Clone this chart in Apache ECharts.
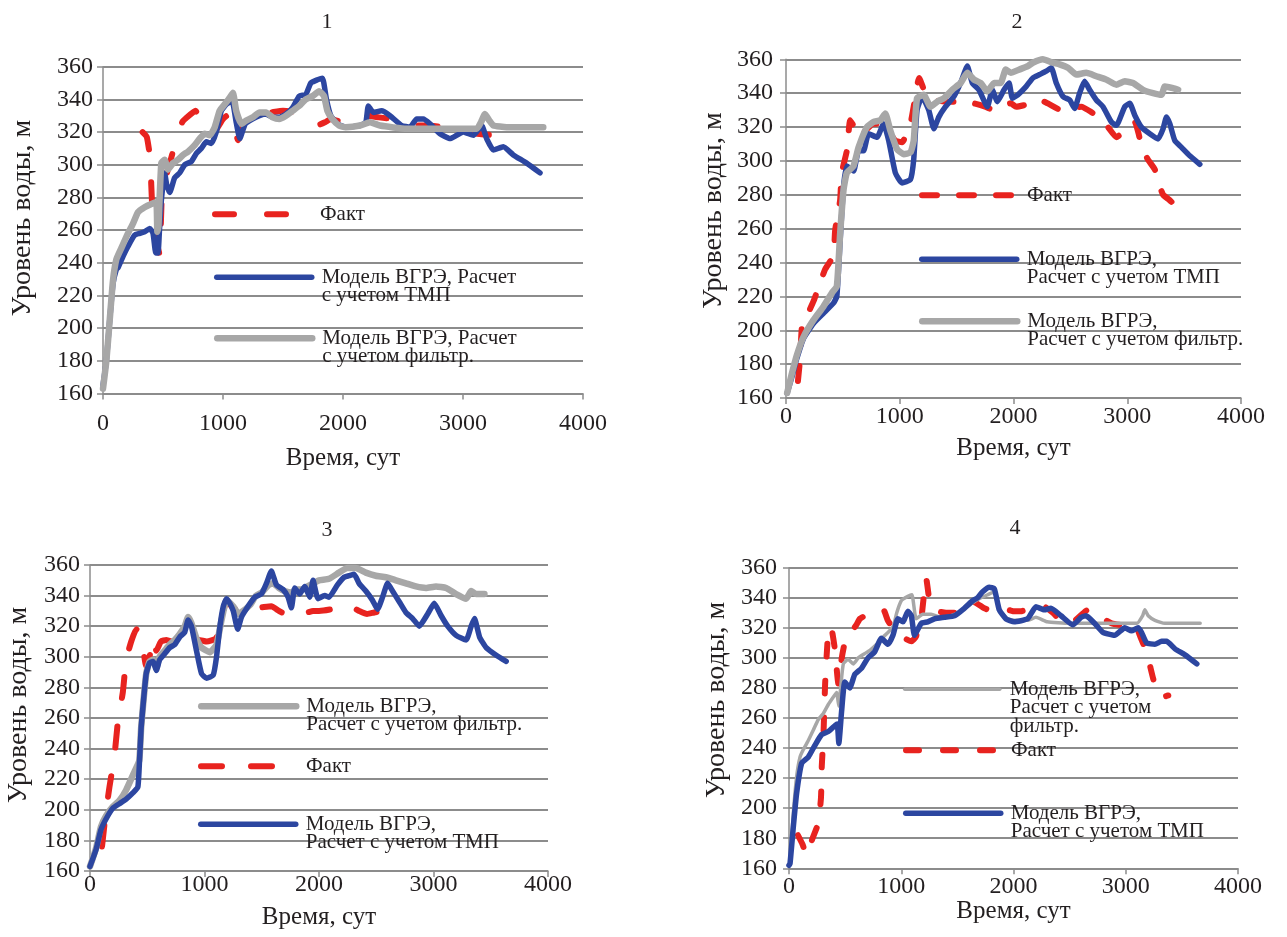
<!DOCTYPE html>
<html>
<head>
<meta charset="utf-8">
<script src="https://cdn.jsdelivr.net/npm/echarts@6/dist/echarts.min.js"></script>
<style>
  html, body { margin: 0; padding: 0; background: #ffffff; }
  #chart { width: 1287px; height: 937px; }
</style>
</head>
<body>
<div id="chart"></div>
<script>
// Panel captions and axis titles
const panelTitles = ['1', '2', '3', '4'];
const xAxisTitle = 'Время, сут';
const yAxisTitle = 'Уровень воды, м';
const seriesNames = ['Факт', 'Модель ВГРЭ, Расчет с учетом ТМП', 'Модель ВГРЭ, Расчет с учетом фильтр.'];

// Axis ranges
const timeTicks = [0, 1000, 2000, 3000, 4000];
const levelTicks = [160, 180, 200, 220, 240, 260, 280, 300, 320, 340, 360];

// ---- Panel 1: [time, level] ----
const fact1 = [[330,320],[365,317],[395,303],[402,288],[412,272],[430,260],[455,250],[472,245],[490,280],[515,290],[560,302],[610,315],[660,326],[700,329],[770,333],[820,326],[870,319],[930,320],[1000,328],[1070,332],[1100,322],[1125,315],[1160,322],[1200,328],[1300,331],[1400,332],[1500,333],[1600,332],[1700,327],[1780,324],[1850,326],[1900,328],[1950,327],[2050,325],[2150,326],[2210,330],[2300,329],[2400,328],[2480,326],[2580,324],[2700,324],[2830,323],[2950,321],[3050,320],[3120,319],[3250,318],[3380,316]];
const tmp1 = [[0,165],[28,180],[56,205],[83,227],[111,236],[125,237],[167,244],[208,250],[264,257],[306,258],[347,259],[389,261],[417,258],[440,246],[458,246],[472,262],[486,278],[514,295],[530,288],[556,283],[597,292],[639,295],[681,300],[736,302],[778,307],[819,310],[861,314],[903,313],[944,320],[986,333],[1028,337],[1075,339],[1110,326],[1140,316],[1185,325],[1248,328],[1304,330],[1359,331],[1414,329],[1469,329],[1525,331],[1580,335],[1635,342],[1690,343],[1732,350],[1787,352],[1829,353],[1862,340],[1898,330],[1953,325],[2022,323],[2142,324],[2190,326],[2211,336],[2253,332],[2322,333],[2392,330],[2489,324],[2558,323],[2614,328],[2670,328],[2725,325],[2808,319],[2892,316],[2947,318],[3003,320],[3086,318],[3156,324],[3197,316],[3253,309],[3336,311],[3419,306],[3530,301],[3642,295]];
const filt1 = [[0,163],[28,180],[56,205],[83,229],[111,242],[153,249],[208,258],[250,264],[292,271],[347,274],[403,276],[444,277],[453,259],[462,262],[486,301],[514,303],[542,297],[583,301],[625,303],[667,306],[708,308],[764,312],[806,316],[847,319],[889,318],[931,323],[972,333],[1014,337],[1056,341],[1083,344],[1110,333],[1153,325],[1193,327],[1248,329],[1304,332],[1359,332],[1414,329],[1469,328],[1525,330],[1580,333],[1635,336],[1690,340],[1746,342],[1801,345],[1842,342],[1870,333],[1911,328],[1967,324],[2022,323],[2142,324],[2225,326],[2308,324],[2531,322],[2800,322],[3114,322],[3150,326],[3183,331],[3220,327],[3253,324],[3364,323],[3669,323]];

// ---- Panel 2 ----
const fact2 = [[105,170],[125,184],[140,202],[180,208],[241,217],[290,226],[344,236],[417,244],[432,259],[476,277],[490,293],[535,306],[564,324],[600,320],[653,314],[700,318],[770,322],[830,322],[900,318],[960,312],[1020,311],[1094,322],[1130,335],[1170,349],[1226,340],[1300,336],[1400,335],[1500,335],[1650,334],[1750,332],[1829,330],[1900,332],[1976,334],[2023,332],[2100,333],[2229,336],[2300,334],[2420,330],[2500,331],[2596,332],[2680,329],[2758,325],[2830,320],[2904,314],[2980,318],[3066,323],[3100,316],[3124,309],[3180,301],[3242,295],[3280,286],[3315,280],[3370,277],[3418,274]];
const tmp2 = [[10,163],[50,172],[94,183],[153,195],[241,204],[329,210],[417,216],[447,220],[476,253],[506,285],[535,297],[594,294],[638,306],[682,306],[726,316],[800,314],[858,322],[903,312],[961,293],[1020,287],[1094,289],[1123,301],[1152,330],[1197,338],[1255,330],[1300,319],[1344,326],[1402,332],[1476,338],[1535,346],[1594,356],[1638,346],[1696,342],[1770,332],[1814,342],[1858,335],[1917,342],[1961,346],[1990,337],[2038,339],[2112,344],[2170,349],[2229,351],[2288,353],[2332,355],[2376,346],[2435,338],[2493,336],[2537,331],[2581,340],[2625,347],[2669,342],[2728,336],[2787,332],[2860,323],[2904,321],[2978,332],[3022,334],[3066,327],[3124,320],[3198,316],[3271,313],[3315,319],[3345,326],[3374,322],[3418,312],[3477,308],[3550,303],[3638,298]];
const filt2 = [[10,163],[50,174],[94,185],[153,196],[241,206],[329,214],[403,222],[447,226],[476,257],[506,283],[535,293],[594,297],[638,308],[711,320],[770,323],[829,324],[873,328],[917,318],[976,307],[1035,304],[1094,305],[1123,312],[1152,337],[1211,339],[1270,332],[1329,335],[1388,337],[1461,342],[1535,346],[1594,352],[1652,348],[1711,346],[1770,341],[1829,346],[1887,346],[1932,354],[1976,352],[2053,354],[2126,356],[2170,358],[2258,360],[2346,358],[2405,357],[2479,355],[2552,351],[2640,352],[2728,350],[2816,348],[2904,345],[2978,347],[3051,346],[3139,342],[3227,340],[3301,339],[3330,344],[3403,343],[3447,342]];

// ---- Panel 3 ----
const fact3 = [[105,176],[135,196],[170,215],[213,235],[243,257],[287,277],[316,298],[360,310],[404,318],[447,313],[491,294],[520,300],[550,312],[580,304],[620,310],[667,311],[740,309],[813,307],[880,310],[950,311],[1020,310],[1100,312],[1140,320],[1192,337],[1250,332],[1308,330],[1366,332],[1450,332],[1584,333],[1650,330],[1700,328],[1760,327],[1802,326],[1850,328],[1900,329],[1948,330],[2000,330],[2100,331],[2170,333],[2248,334],[2300,332],[2350,330],[2420,328],[2482,329],[2560,330],[2620,331],[2700,332]];
const tmp3 = [[0,163],[53,174],[96,187],[140,194],[199,201],[257,204],[316,207],[374,211],[418,215],[433,233],[447,254],[468,272],[491,289],[520,296],[550,297],[579,291],[608,298],[652,302],[696,306],[740,308],[784,313],[827,316],[857,324],[886,320],[930,304],[974,289],[1018,286],[1076,288],[1105,300],[1135,320],[1164,333],[1193,338],[1221,335],[1251,330],[1290,318],[1323,326],[1381,333],[1439,339],[1497,341],[1541,348],[1584,356],[1628,347],[1686,344],[1730,339],[1759,332],[1788,345],[1831,341],[1875,346],[1919,339],[1948,350],[1991,338],[2050,340],[2088,339],[2161,347],[2219,352],[2263,353],[2307,354],[2350,348],[2409,343],[2467,337],[2511,331],[2555,339],[2599,348],[2642,343],[2701,336],[2759,329],[2818,325],[2876,320],[2949,328],[3007,335],[3066,327],[3124,320],[3197,314],[3285,311],[3329,320],[3358,325],[3402,313],[3460,306],[3548,301],[3635,297]];
const filt3 = [[0,163],[53,175],[96,189],[140,196],[199,202],[257,206],[316,213],[389,225],[430,232],[447,254],[468,272],[491,289],[520,297],[550,298],[579,293],[608,300],[652,304],[696,308],[740,311],[784,315],[827,320],[857,326],[886,322],[930,312],[974,306],[1047,303],[1105,308],[1149,324],[1193,337],[1251,333],[1300,328],[1339,330],[1400,334],[1450,340],[1500,342],[1560,347],[1600,348],[1650,345],[1700,343],[1760,342],[1800,344],[1850,344],[1900,346],[1950,348],[2000,350],[2088,351],[2175,355],[2248,358],[2321,358],[2409,355],[2496,353],[2584,352],[2672,350],[2759,348],[2847,346],[2934,345],[3022,346],[3110,345],[3197,341],[3285,338],[3329,343],[3372,341],[3445,341]];

// ---- Panel 4 ----
const fact4 = [[80,182],[120,176],[157,169],[210,180],[261,190],[285,207],[292,228],[306,247],[314,265],[322,283],[335,301],[355,320],[375,320],[410,305],[439,283],[470,300],[512,315],[560,318],[600,322],[632,326],[700,329],[760,331],[840,332],[880,325],[940,318],[975,316],[1030,313],[1090,311],[1130,314],[1178,326],[1222,353],[1252,338],[1290,333],[1325,331],[1400,330],[1480,330],[1540,332],[1651,337],[1740,333],[1829,331],[1900,332],[1947,332],[2006,331],[2066,331],[2150,333],[2275,334],[2350,330],[2454,323],[2550,325],[2663,332],[2760,328],[2872,323],[2950,322],[3081,322],[3130,314],[3185,304],[3245,286],[3290,276],[3330,274],[3379,275]];
const tmp4 = [[0,162],[9,163],[39,188],[68,210],[113,230],[172,234],[232,242],[291,249],[350,251],[410,255],[430,256],[444,243],[468,264],[497,284],[541,280],[586,289],[645,293],[704,300],[763,304],[823,313],[882,309],[926,315],[970,326],[1015,324],[1059,331],[1090,328],[1118,315],[1178,323],[1237,324],[1296,326],[1385,327],[1474,328],[1562,333],[1636,338],[1680,340],[1725,344],[1784,347],[1829,346],[1873,332],[1932,326],[2006,324],[2125,326],[2200,334],[2275,332],[2334,333],[2424,328],[2528,322],[2603,327],[2648,328],[2722,323],[2797,317],[2901,315],[2991,320],[3051,318],[3110,320],[3140,317],[3185,310],[3260,309],[3319,311],[3364,311],[3439,306],[3528,302],[3633,296]];
const filt4 = [[0,162],[9,165],[39,197],[68,221],[98,234],[128,239],[172,245],[217,252],[261,259],[306,263],[350,269],[395,274],[424,277],[444,268],[460,280],[484,296],[528,299],[573,296],[617,300],[677,303],[721,305],[781,309],[840,314],[884,317],[929,321],[960,330],[1000,338],[1059,341],[1095,342],[1133,326],[1192,329],[1266,329],[1355,327],[1444,328],[1533,331],[1621,336],[1710,340],[1769,342],[1829,344],[1873,332],[1947,326],[2006,325],[2125,325],[2200,327],[2300,324],[2500,323],[2800,323],[3100,323],[3150,328],[3170,332],[3200,328],[3260,325],[3349,323],[3663,323]];

const panelData = [
  { fact: fact1, tmp: tmp1, filt: filt1 },
  { fact: fact2, tmp: tmp2, filt: filt2 },
  { fact: fact3, tmp: tmp3, filt: filt3 },
  { fact: fact4, tmp: tmp4, filt: filt4 }
];

// Colours
const RED = '#e8231f';
const BLUE = '#2c46a0';
const GRAY = '#a7a7a7';
const INK = '#231f20';
const RULE = '#8c8c8c';
const SERIF = '"Liberation Serif", "DejaVu Serif", serif';

// Legend text metrics
const LEGEND_FONT = 21;
const LEGEND_LINE = 18.5;

// Layout of each panel (pixels)
const panels = [
  { grid: { left: 103, top: 66.7, width: 480, height: 326.8 }, title: [327, 22],
    yNameGap: 66, yNameShift: 24, xNameGap: 52, xLabelMargin: 18, yLabelMargin: 10,
    dash: [19, 33], width: { fact: 6, tmp: 5.5, filt: 6.5 }, order: ['fact', 'tmp', 'filt'],
    legend: [
      { key: 'fact', left: 212, y: 213, text: 'Факт' },
      { key: 'tmp', left: 214, y: 276, text: 'Модель ВГРЭ, Расчет\nс учетом ТМП' },
      { key: 'filt', left: 214, y: 337, text: 'Модель ВГРЭ, Расчет\nс учетом фильтр.' }
    ] },
  { grid: { left: 786, top: 59.3, width: 455, height: 338.7 }, title: [1017, 22],
    yNameGap: 58, yNameShift: 36, xNameGap: 38, xLabelMargin: 7, yLabelMargin: 13,
    dash: [15, 22], width: { fact: 6, tmp: 5.5, filt: 6.5 }, order: ['fact', 'tmp', 'filt'],
    legend: [
      { key: 'fact', left: 919, y: 194, text: 'Факт' },
      { key: 'tmp', left: 919, y: 258, text: 'Модель ВГРЭ,\nРасчет с учетом ТМП' },
      { key: 'filt', left: 919, y: 320, text: 'Модель ВГРЭ,\nРасчет с учетом фильтр.' }
    ] },
  { grid: { left: 90, top: 565, width: 458, height: 306 }, title: [327, 530],
    yNameGap: 57, yNameShift: 26, xNameGap: 34, xLabelMargin: 2, yLabelMargin: 10,
    dash: [21, 29], width: { fact: 6, tmp: 5.5, filt: 6.5 }, order: ['fact', 'filt', 'tmp'],
    legend: [
      { key: 'filt', left: 198, y: 705, text: 'Модель ВГРЭ,\nРасчет с учетом фильтр.' },
      { key: 'fact', left: 198, y: 765, text: 'Факт' },
      { key: 'tmp', left: 198, y: 823, text: 'Модель ВГРЭ,\nРасчет с учетом ТМП' }
    ] },
  { grid: { left: 789, top: 567.7, width: 449, height: 300.6 }, title: [1015, 528],
    yNameGap: 58, yNameShift: 36, xNameGap: 31, xLabelMargin: 6, yLabelMargin: 12,
    dash: [13, 24], width: { fact: 6, tmp: 5.5, filt: 3.5 }, order: ['fact', 'filt', 'tmp'],
    legend: [
      { key: 'filt', left: 903, y: 688, text: 'Модель ВГРЭ,\nРасчет с учетом\nфильтр.' },
      { key: 'fact', left: 903, y: 749, text: 'Факт' },
      { key: 'tmp', left: 903, y: 812, text: 'Модель ВГРЭ,\nРасчет с учетом ТМП' }
    ] }
];

const keyName = { fact: seriesNames[0], tmp: seriesNames[1], filt: seriesNames[2] };
const keyColor = { fact: RED, tmp: BLUE, filt: GRAY };

const grids = [], xAxes = [], yAxes = [], series = [], legends = [], graphics = [];

panels.forEach((p, i) => {
  grids.push(Object.assign({ outerBoundsMode: 'none', containLabel: false }, p.grid));

  xAxes.push({
    gridIndex: i, type: 'value', min: timeTicks[0], max: timeTicks[timeTicks.length - 1],
    interval: timeTicks[1] - timeTicks[0],
    name: xAxisTitle, nameLocation: 'middle', nameGap: p.xNameGap, nameMoveOverlap: false,
    nameTextStyle: { fontFamily: SERIF, fontSize: 25, color: INK },
    axisLine: { show: true, onZero: false, lineStyle: { color: RULE, width: 1.5 } },
    axisTick: { show: true, length: 6, lineStyle: { color: RULE, width: 1.5 } },
    axisLabel: { fontFamily: SERIF, fontSize: 24, color: INK, margin: p.xLabelMargin,
      formatter: (v) => String(v) },
    splitLine: { show: false }
  });

  yAxes.push({
    gridIndex: i, type: 'value', min: levelTicks[0], max: levelTicks[levelTicks.length - 1],
    interval: levelTicks[1] - levelTicks[0],
    name: yAxisTitle, nameLocation: 'middle', nameGap: p.yNameGap, nameMoveOverlap: false,
    nameTextStyle: { fontFamily: SERIF, fontSize: 28, color: INK, padding: [0, 0, 0, p.yNameShift] },
    axisLine: { show: true, onZero: false, lineStyle: { color: RULE, width: 1.5 } },
    axisTick: { show: true, length: 6, lineStyle: { color: RULE, width: 1.5 } },
    axisLabel: { fontFamily: SERIF, fontSize: 24, color: INK, margin: p.yLabelMargin,
      formatter: (v) => String(v) },
    splitLine: { show: true, lineStyle: { color: RULE, width: 1.8 } }
  });

  p.order.forEach((key) => {
    const isFact = key === 'fact';
    series.push({
      name: keyName[key], type: 'line', xAxisIndex: i, yAxisIndex: i,
      data: panelData[i][key], showSymbol: false, symbol: 'none', smooth: 0.15,
      color: keyColor[key],
      lineStyle: {
        color: keyColor[key], width: p.width[key],
        type: isFact ? p.dash : 'solid', cap: 'round', join: 'round'
      },
      emphasis: { disabled: true }, silent: true
    });
  });

  // Legend entries: the text block is centred on the swatch, so blank lines
  // are prepended to bring the first text line level with the swatch.
  p.legend.forEach((it) => {
    const n = it.text.split('\n').length;
    const shown = '\u00a0\n'.repeat(n - 1) + it.text;
    const half = (2 * n - 1) * LEGEND_LINE / 2;
    legends.push({
      data: [keyName[it.key]], left: it.left, top: it.y - half, padding: 0,
      itemWidth: 95, itemHeight: 14, selectedMode: false,
      formatter: () => shown,
      itemStyle: { opacity: 0 },
      lineStyle: {
        width: p.width[it.key], type: it.key === 'fact' ? p.dash : 'solid', cap: 'round'
      },
      textStyle: {
        fontFamily: SERIF, fontSize: LEGEND_FONT, lineHeight: LEGEND_LINE, color: INK,
        padding: [0, 0, 0, 5]
      }
    });
  });

  graphics.push({
    type: 'text', x: p.title[0], y: p.title[1], silent: true,
    style: { text: panelTitles[i], font: '22px ' + SERIF, fill: INK,
      textAlign: 'center', textVerticalAlign: 'middle', align: 'center', verticalAlign: 'middle' }
  });
});

const chart = echarts.init(document.getElementById('chart'), null, { renderer: 'canvas' });
chart.setOption({
  backgroundColor: '#ffffff',
  animation: false,
  grid: grids,
  xAxis: xAxes,
  yAxis: yAxes,
  legend: legends,
  series: series,
  graphic: graphics,
  tooltip: { show: false }
});
</script>
</body>
</html>
